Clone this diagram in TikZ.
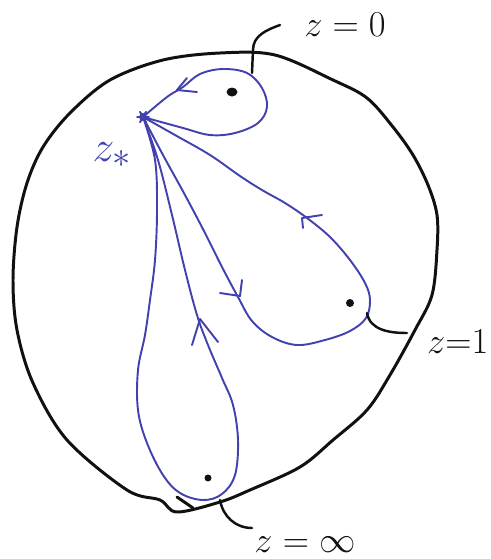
\documentclass[tikz,border=0pt]{standalone}
\usepackage{tikz}
\definecolor{pen-blue}{HTML}{4242AE}
\definecolor{pen-black}{HTML}{111111}

\begin{document}
\begin{tikzpicture}[
    x=0.02cm, y=-0.02cm, % pixel-like grid, origin at the top left
    font=\huge,
    line cap=round, line join=round
  ]

  % Styles for the sketch
  \tikzset{
    rim/.style={draw=pen-black, line width=1.7pt},
    loopline/.style={draw=pen-blue, line width=1.1pt},
    tipmark/.style={draw=pen-blue, line width=1.1pt},
    leader/.style={draw=pen-black, line width=1.4pt},
    puncture/.style={fill=pen-black},
    ptlabel/.style={text=pen-black, inner sep=1pt}
  }

  \useasboundingbox (0,0) rectangle (491,559);

  % Base point and punctures
  \coordinate (zs)   at (143,117);
  \coordinate (z0)   at (232,92);
  \coordinate (z1)   at (350,303);
  \coordinate (zinf) at (208,478);

  % Outer sphere
  \draw[rim] plot[smooth cycle, tension=0.55] coordinates {
    (110,80) (163,60) (220,53) (275,55) (333,80) (367,98)
    (393,127) (413,155) (428,185) (437,215) (437,250) (432,295)
    (415,330) (390,375) (367,410) (333,440) (300,467) (250,490)
    (220,502) (177,512) (160,500) (127,490) (67,440) (33,383)
    (17,330) (13,280) (17,227) (27,183) (43,147) (70,113)};
  \draw[rim] (177,497) -- (193,508);

  % Loop around z = 0
  \draw[loopline] plot[smooth, tension=0.6] coordinates {
    (zs) (167,97) (183,87) (200,74) (223,69) (247,73) (262,88)
    (267,107) (258,123) (235,133) (210,135) (183,128) (zs)};

  % Loop around z = 1
  \draw[loopline] plot[smooth, tension=0.6] coordinates {
    (zs) (175,135) (210,155) (240,176) (262,190) (285,203) (307,218)
    (330,237) (350,260) (365,283) (370,300) (366,318) (350,331)
    (325,340) (297,345) (272,337) (252,321) (238,297) (222,267)
    (205,233) (185,195) (163,155) (zs)};

  % Loop around z = infinity
  \draw[loopline] plot[smooth, tension=0.6] coordinates {
    (zs) (155,160) (157,210) (155,260) (150,300) (145,335) (138,370)
    (138,410) (147,443) (163,475) (180,493) (203,500) (222,494)
    (235,475) (238,440) (233,405) (222,378) (208,345) (197,315)
    (185,270) (172,215) (158,160) (zs)};

  % Orientation marks
  \draw[tipmark] (187,78) -- (177,90) -- (197,92);
  \draw[tipmark] (322,215) -- (302,218) -- (303,228);
  \draw[tipmark] (242,280) -- (240,296) -- (220,293);
  \draw[tipmark] (192,345) -- (200,319) -- (218,342);

  % Base point mark
  \fill[pen-blue] (zs) circle [radius=4];
  \foreach \a in {0,60,120}
    \draw[tipmark] ([shift={(\a:6)}]zs) -- ([shift={(\a+180:6)}]zs);

  % Punctures
  \fill[puncture] (z0) ellipse [x radius=5.5, y radius=4.5];
  \fill[puncture] (z1) circle [radius=4];
  \fill[puncture] (zinf) circle [radius=3.5];

  % Labels
  \node (lab0)   [ptlabel] at (345,25)  {$z=0$};
  \node (lab1)   [ptlabel, anchor=west] at (425,342) {$z{=}1$};
  \node (labinf) [ptlabel] at (305,545) {$z=\infty$};
  \node (labzs)  [ptlabel, text=pen-blue, font=\Huge] at (112,155) {$z_*$};

  % Leader lines
  \coordinate (end0)   at (280,25);
  \coordinate (end1)   at (407,333);
  \coordinate (endinf) at (252,528);
  \draw[leader] (252,73) -- (253,50) to[out=90, in=200] (end0);
  \draw[leader] (367,313) to[out=-80, in=180] (end1);
  \draw[leader] (220,500) to[out=-80, in=180] (endinf);

\end{tikzpicture}
\end{document}
